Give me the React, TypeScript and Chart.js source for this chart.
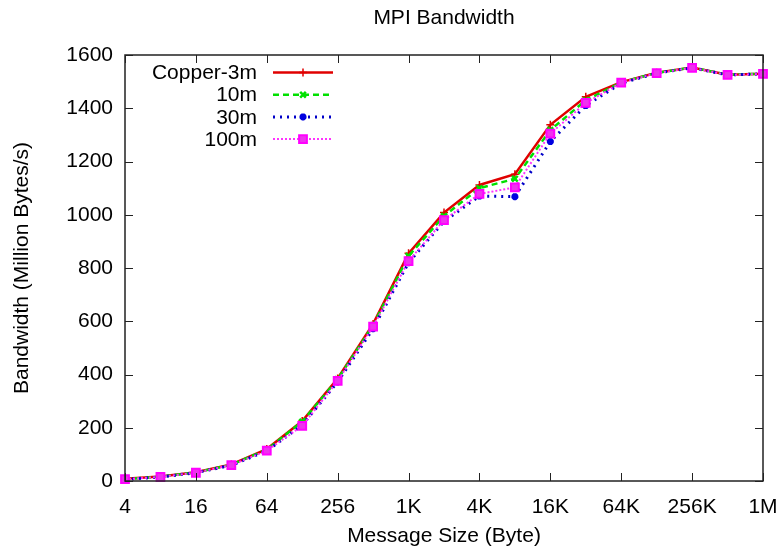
import React, { useEffect, useRef } from 'react';
import { Chart, registerables } from 'chart.js';
import { drawPoint } from 'chart.js/helpers';

Chart.register(...registerables);

const FONT = '"Liberation Sans", Arial, Helvetica, sans-serif';

const TITLE = 'MPI Bandwidth';

// Message sizes in bytes (powers of two from 4 B to 1 MB)
const sizes = [4, 8, 16, 32, 64, 128, 256, 512, 1024, 2048, 4096, 8192, 16384, 32768, 65536, 131072, 262144, 524288, 1048576];

// Bandwidth in Million Bytes/s
const copper3m = [8, 17, 33, 62, 120, 225, 385, 590, 855, 1008, 1112, 1152, 1338, 1443, 1498, 1533, 1553, 1526, 1530];
const m10 = [7, 16, 32, 61, 118, 223, 382, 585, 845, 995, 1100, 1135, 1318, 1430, 1497, 1533, 1553, 1526, 1530];
const m30 = [6, 15, 31, 59, 113, 210, 372, 572, 820, 975, 1070, 1068, 1275, 1410, 1494, 1532, 1552, 1525, 1529];
const m100 = [7, 15, 31, 60, 114, 207, 376, 580, 826, 980, 1078, 1103, 1305, 1420, 1496, 1532, 1552, 1525, 1529];

const xTickSizes = [4, 16, 64, 256, 1024, 4096, 16384, 65536, 262144, 1048576];
const xTickLabels = ['4', '16', '64', '256', '1K', '4K', '16K', '64K', '256K', '1M'];
const yTicks = [0, 200, 400, 600, 800, 1000, 1200, 1400, 1600];

const font = { family: FONT, size: 21, weight: 'normal' as const };

const framePlugin = {
  id: 'frame',
  afterDatasetsDraw(chart: any) {
    const { ctx, chartArea: a, scales } = chart;
    const x = scales.x, y = scales.y;
    ctx.save();
    ctx.strokeStyle = '#222';
    ctx.lineWidth = 1.5;
    ctx.strokeRect(a.left, a.top, a.right - a.left, a.bottom - a.top);
    ctx.lineWidth = 1;
    const L = 8;
    ctx.beginPath();
    xTickSizes.forEach((s) => {
      const px = Math.round(x.getPixelForValue(Math.log2(s))) + 0.5;
      ctx.moveTo(px, a.bottom); ctx.lineTo(px, a.bottom - L);
      ctx.moveTo(px, a.top); ctx.lineTo(px, a.top + L);
    });
    yTicks.forEach((v) => {
      const py = Math.round(y.getPixelForValue(v)) + 0.5;
      ctx.moveTo(a.left, py); ctx.lineTo(a.left + L, py);
      ctx.moveTo(a.right, py); ctx.lineTo(a.right - L, py);
    });
    ctx.stroke();
    ctx.restore();
  },
};

const titlePlugin = {
  id: 'gpTitle',
  afterDraw(chart: any) {
    const { ctx, chartArea: a } = chart;
    ctx.save();
    ctx.fillStyle = '#000';
    ctx.font = `21px ${FONT}`;
    ctx.textAlign = 'center';
    ctx.textBaseline = 'middle';
    ctx.fillText(TITLE, (a.left + a.right) / 2, 18);
    ctx.restore();
  },
};

const legendPlugin = {
  id: 'gpLegend',
  afterDraw(chart: any) {
    const { ctx, chartArea: a } = chart;
    const textRight = a.left + 132;
    const lineL = a.left + 148;
    const lineR = a.left + 208;
    const top = a.top + 17.5;
    const step = 22.2;
    ctx.save();
    chart.data.datasets.forEach((ds: any, i: number) => {
      const yy = top + i * step;
      ctx.fillStyle = '#000';
      ctx.font = `21px ${FONT}`;
      ctx.textAlign = 'right';
      ctx.textBaseline = 'middle';
      ctx.fillText(ds.label, textRight, yy + 1);
      ctx.strokeStyle = ds.borderColor;
      ctx.lineWidth = ds.borderWidth;
      ctx.setLineDash(ds.borderDash || []);
      ctx.beginPath();
      ctx.moveTo(lineL, yy);
      ctx.lineTo(lineR, yy);
      ctx.stroke();
      ctx.setLineDash([]);
      ctx.fillStyle = ds.pointBackgroundColor;
      ctx.strokeStyle = ds.pointBorderColor;
      ctx.lineWidth = ds.pointBorderWidth;
      drawPoint(ctx, { pointStyle: ds.pointStyle, radius: ds.pointRadius, rotation: 0, borderWidth: ds.pointBorderWidth }, (lineL + lineR) / 2, yy);
    });
    ctx.restore();
  },
};

export default function App() {
  const ref = useRef<HTMLCanvasElement>(null);
  useEffect(() => {
    document.body.style.margin = '0';
    const xs = sizes.map((s) => Math.log2(s));
    const pts = (vals: number[]) => vals.map((v, i) => ({ x: xs[i], y: v }));
    const chart = new Chart(ref.current as HTMLCanvasElement, {
      type: 'line',
      data: {
        datasets: [
          {
            label: 'Copper-3m', data: pts(copper3m), borderColor: '#e00000', borderWidth: 2.5, order: 3,
            pointStyle: 'cross', pointRadius: 4, pointBorderWidth: 1.5,
            pointBorderColor: '#e00000', pointBackgroundColor: '#e00000', clip: false,
          },
          {
            label: '10m', data: pts(m10), borderColor: '#00e000', borderWidth: 2.5, borderDash: [6, 4], order: 2,
            pointStyle: 'crossRot', pointRadius: 4, pointBorderWidth: 2.5,
            pointBorderColor: '#00e000', pointBackgroundColor: '#00e000', clip: false,
          },
          {
            label: '30m', data: pts(m30), borderColor: '#0000c8', borderWidth: 3, borderDash: [2, 5], order: 1,
            pointStyle: 'star', pointRadius: 3.5, pointBorderWidth: 2.5,
            pointBorderColor: '#0000e0', pointBackgroundColor: '#0000e0', clip: false,
          },
          {
            label: '100m', data: pts(m100), borderColor: '#ff33ff', borderWidth: 2, borderDash: [2, 2], order: 0,
            pointStyle: 'rect', pointRadius: 5.5, pointBorderWidth: 2,
            pointBorderColor: '#ff00ff', pointBackgroundColor: '#ee33ee', clip: false,
          },
        ] as any,
      },
      options: {
        responsive: false,
        animation: false,
        devicePixelRatio: 1,
        layout: { padding: { left: 0, right: 15, top: 55, bottom: 0 } },
        plugins: {
          legend: { display: false },
          tooltip: { enabled: false },
          title: { display: false },
        },
        scales: {
          x: {
            type: 'linear', min: Math.log2(sizes[0]), max: Math.log2(sizes[sizes.length - 1]),
            afterBuildTicks: (s: any) => { s.ticks = xTickSizes.map((v) => ({ value: Math.log2(v) })); },
            ticks: {
              font, color: '#000', padding: 14, maxRotation: 0, autoSkip: false,
              callback: (v: any) => {
                const i = xTickSizes.findIndex((s) => Math.abs(Math.log2(s) - v) < 1e-6);
                return i >= 0 ? xTickLabels[i] : '';
              },
            },
            grid: { display: false, drawTicks: false },
            border: { display: false },
            title: { display: true, text: 'Message Size (Byte)', color: '#000', font, padding: { top: 0, bottom: 0 } },
            afterFit: (s: any) => { s.height = 68; s.paddingRight = 0; s.paddingLeft = 0; },
          },
          y: {
            type: 'linear', min: 0, max: 1600,
            afterBuildTicks: (s: any) => { s.ticks = yTicks.map((v) => ({ value: v })); },
            ticks: { font, color: '#000', padding: 12, callback: (v: any) => String(v) },
            grid: { display: false, drawTicks: false },
            border: { display: false },
            title: { display: true, text: 'Bandwidth (Million Bytes/s)', color: '#000', font, padding: { top: 10, bottom: 0 } },
            afterFit: (s: any) => { s.width = 125; s.paddingTop = 0; s.paddingBottom = 0; },
          },
        },
      } as any,
      plugins: [framePlugin, titlePlugin, legendPlugin],
    });
    return () => chart.destroy();
  }, []);
  return <canvas ref={ref} width={778} height={549} style={{ display: 'block' }} />;
}
